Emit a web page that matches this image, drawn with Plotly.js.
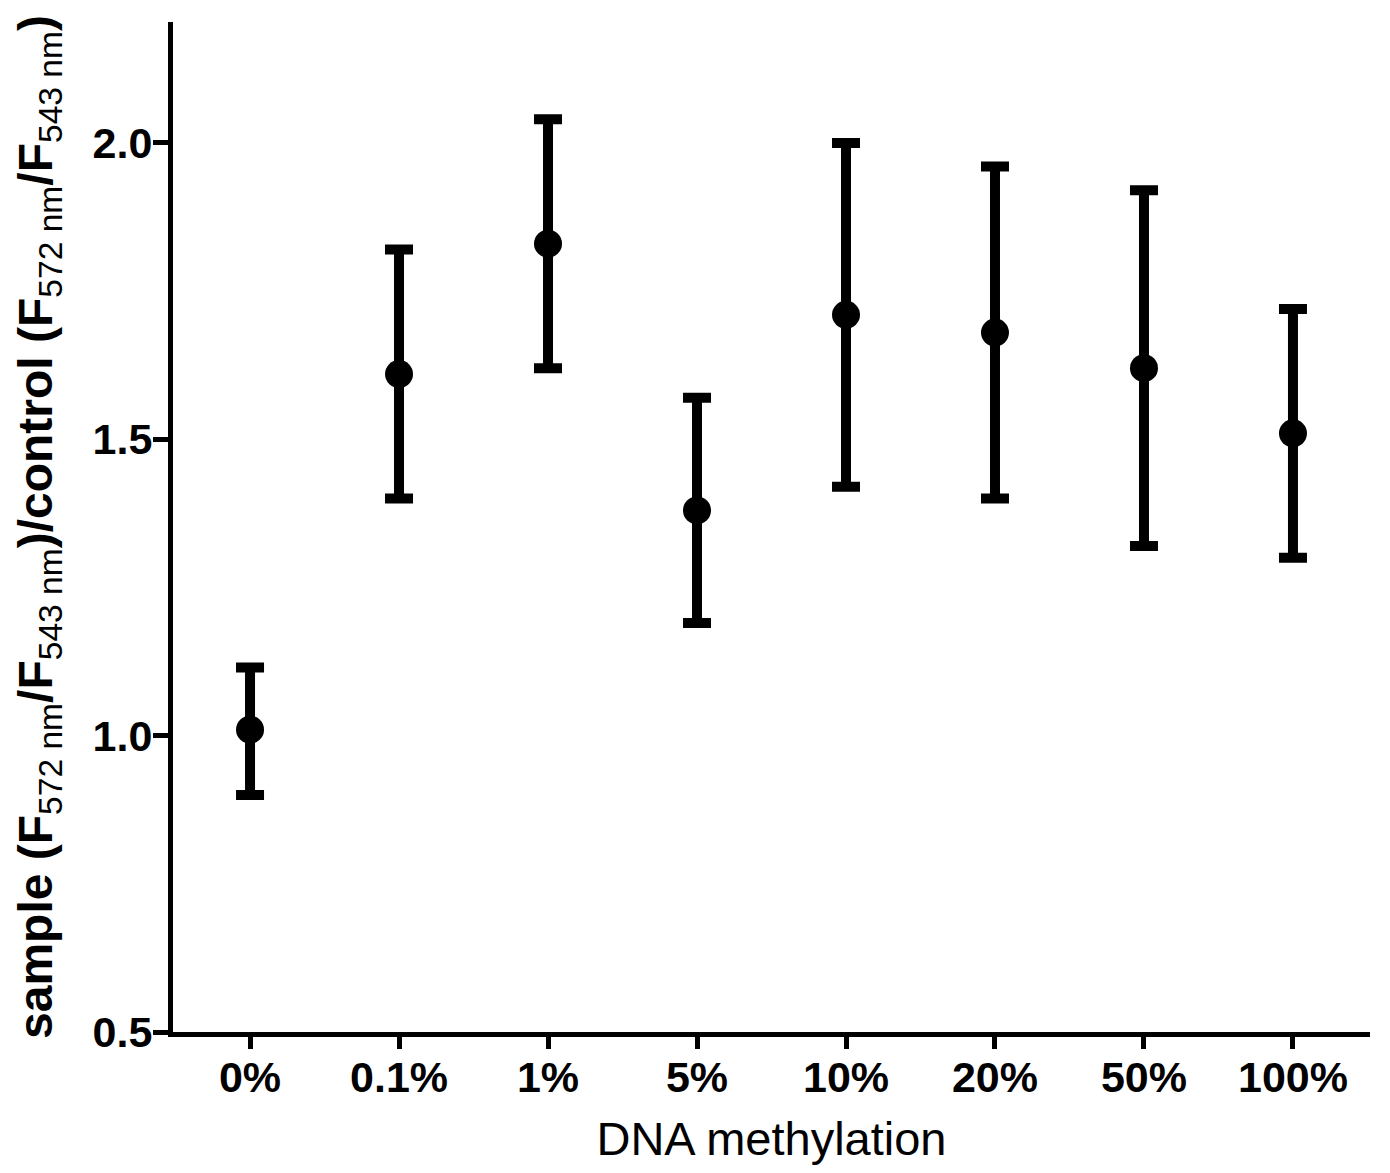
<!DOCTYPE html>
<html>
<head>
<meta charset="utf-8">
<script src="https://cdn.plot.ly/plotly-3.0.1.min.js"></script>
<style>html,body{margin:0;padding:0;background:#fff;}#chart{width:1390px;height:1173px;}</style>
</head>
<body>
<div id="chart"></div>
<script>
const categories = ["0%", "0.1%", "1%", "5%", "10%", "20%", "50%", "100%"];
const means = [1.01, 1.61, 1.83, 1.38, 1.71, 1.68, 1.62, 1.51];
const upper = [1.115, 1.82, 2.04, 1.57, 2.00, 1.96, 1.92, 1.72];
const lower = [0.90, 1.40, 1.62, 1.19, 1.42, 1.40, 1.32, 1.30];
const yTicks = [0.5, 1.0, 1.5, 2.0];
const yTickText = ["0.5", "1.0", "1.5", "2.0"];

const errPlus = upper.map((u, i) => u - means[i]);
const errMinus = lower.map((l, i) => means[i] - l);

const trace = {
  type: "scatter",
  mode: "markers",
  x: categories.map((c, i) => i),
  y: means,
  marker: {color: "#000", size: 28, symbol: "circle"},
  error_y: {type: "data", symmetric: false, array: errPlus, arrayminus: errMinus,
            color: "#000", thickness: 10, width: 14},
  hoverinfo: "skip"
};

const sub = s => '<sub><span style="font-weight:normal">' + s + '</span></sub>';
const yTitle = 'sample (F' + sub('572 nm') + '/F' + sub('543 nm') + ')/control (F' + sub('572 nm') + '/F' + sub('543 nm') + ')';

const layout = {
  width: 1390, height: 1173,
  margin: {l: 173, r: 20, t: 22, b: 141},
  paper_bgcolor: "#fff", plot_bgcolor: "#fff",
  showlegend: false,
  font: {family: "Liberation Sans, Arial, sans-serif", color: "#000"},
  xaxis: {
    range: [-0.517, 7.517],
    tickmode: "array",
    tickvals: categories.map((c, i) => i),
    ticktext: categories,
    showgrid: false, zeroline: false,
    showline: true, linecolor: "#000", linewidth: 5,
    ticks: "outside", ticklen: 12, tickwidth: 5, tickcolor: "#000",
    ticklabelstandoff: -9,
    tickfont: {size: 43, family: "Liberation Sans, Arial, sans-serif", weight: "bold"},
    title: {text: "DNA methylation", font: {size: 47, family: "Liberation Sans, Arial, sans-serif"}, standoff: 24},
    fixedrange: true
  },
  yaxis: {
    range: [0.5, 2.204],
    tickmode: "array",
    tickvals: yTicks,
    ticktext: yTickText,
    showgrid: false, zeroline: false,
    showline: true, linecolor: "#000", linewidth: 5,
    ticks: "outside", ticklen: 15, tickwidth: 5, tickcolor: "#000",
    ticklabelstandoff: -8,
    tickfont: {size: 43, family: "Liberation Sans, Arial, sans-serif", weight: "bold"},
    title: {text: yTitle, font: {size: 48, family: "Liberation Sans, Arial, sans-serif", weight: "bold"}, standoff: 26},
    fixedrange: true
  }
};

Plotly.newPlot("chart", [trace], layout, {staticPlot: true, displayModeBar: false});
</script>
</body>
</html>
